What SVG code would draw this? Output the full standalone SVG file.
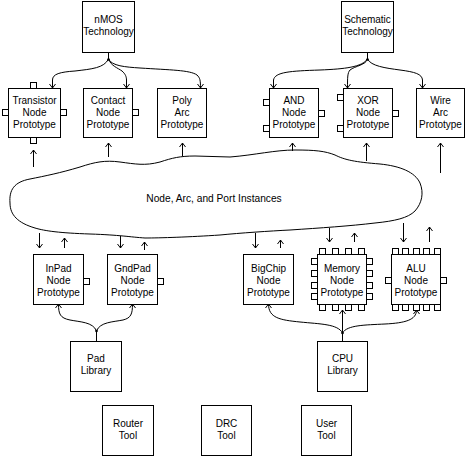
<svg xmlns="http://www.w3.org/2000/svg" width="467" height="457" viewBox="0 0 467 457">
<style>
.b{fill:#fff;stroke:#000;stroke-width:1}
.p{fill:#fff;stroke:#000;stroke-width:1}
.c{fill:none;stroke:#000;stroke-width:1}
text{font-family:"Liberation Sans",Arial,sans-serif;font-size:10px;text-anchor:middle;fill:#000}
</style>
<defs>
<marker id="ah" viewBox="0 0 8 8" refX="5" refY="4" markerWidth="8" markerHeight="8" markerUnits="userSpaceOnUse" orient="auto">
<path d="M1,1 L5,4 L1,7" fill="none" stroke="#000" stroke-width="1"/>
</marker>
</defs>
<rect width="467" height="457" fill="#fff"/>

<g id="cloud">
<path class="c" d="M10,203 C9,190 14,182 30,179 C45,176 60,173 80,167 C95,162 105,160 120,162 C135,164 145,166 160,162 C172,158 180,156 195,156 L230,157 C255,155 275,150 295,150 C315,150 325,151 335,155 C345,160 355,162 380,164 C400,166 415,172 420,183 C424,193 422,203 415,211 C408,218 395,221 375,223 C350,226 320,228 290,230 C270,231 240,233 220,235 C190,237 160,238 145,238 C130,237 120,235 90,234 C60,233 45,231 35,228 C18,223 10,215 10,203 Z"/>
<text x="214" y="201.5" style="font-size:10.2px">Node, Arc, and Port Instances</text>
</g>

<g id="connectors" class="c" marker-end="url(#ah)">
<path d="M108.5,52 V59" marker-end="none"/>
<circle cx="108.5" cy="59.5" r="1.3" fill="#000" stroke="none"/>
<path d="M108.5,59 C104,68 92,69 75,71 C60,72 52.5,74 52.5,80 V88"/>
<path d="M108.5,59 C111,66 118,68 122,71 C125.5,74 126.5,77 126.5,80 V88"/>
<path d="M108.5,59 C112,66 125,67 140,68 C170,70 190,70 197,75 C200,78 200.5,80 200.5,88"/>
<path d="M367.5,52 V59" marker-end="none"/>
<circle cx="367.5" cy="59.5" r="1.3" fill="#000" stroke="none"/>
<path d="M367.5,59 C362,67 345,69 320,70 C290,71 275,72 273.5,80 V88"/>
<path d="M367.5,59 C366,65 355,66 350,70 C347.5,73 347.5,77 347.5,88"/>
<path d="M367.5,59 C371,66 385,68 400,70 C415,72 422,74 422.5,80 V88"/>
<path d="M96.5,341 V331" marker-end="none"/>
<circle cx="96.5" cy="331" r="1.3" fill="#000" stroke="none"/>
<path d="M96.5,331 C93,322 80,322 70,320 C60,318 58.5,314 58.5,304"/>
<path d="M96.5,331 C100,322 113,322 123,320 C131,318 132.5,314 132.5,304"/>
<path d="M342.5,341 V333" marker-end="none"/>
<circle cx="342.5" cy="333" r="1.3" fill="#000" stroke="none"/>
<path d="M342.5,333 C338,324 320,324 300,322 C280,320 268.5,318 268.5,304"/>
<path d="M342.5,333 V310"/>
<path d="M342.5,333 C347,325 365,325 385,324 C405,323 416.5,320 416.5,310"/>
<line x1="33.5" y1="167" x2="33.5" y2="150"/>
<line x1="108.5" y1="157" x2="108.5" y2="143"/>
<line x1="182.5" y1="156" x2="182.5" y2="143"/>
<line x1="292.5" y1="151" x2="292.5" y2="143"/>
<line x1="366.5" y1="161" x2="366.5" y2="143"/>
<line x1="440.5" y1="173" x2="440.5" y2="143"/>
<line x1="39.5" y1="233" x2="39.5" y2="248"/>
<line x1="64.5" y1="248" x2="64.5" y2="238"/>
<line x1="120.5" y1="236" x2="120.5" y2="248"/>
<line x1="144.5" y1="250" x2="144.5" y2="242"/>
<line x1="255.5" y1="233" x2="255.5" y2="248"/>
<line x1="280.5" y1="248" x2="280.5" y2="240"/>
<line x1="329.5" y1="228" x2="329.5" y2="242"/>
<line x1="354.5" y1="242" x2="354.5" y2="233"/>
<line x1="403.5" y1="223" x2="403.5" y2="242"/>
<line x1="429.5" y1="242" x2="429.5" y2="227"/>
</g>

<g id="nmos"><rect class="b" x="82.5" y="1.5" width="52" height="51"/><text x="108.5" y="23">nMOS</text><text x="108.5" y="35">Technology</text></g>
<g id="schematic"><rect class="b" x="341.5" y="1.5" width="52" height="51"/><text x="367.5" y="23">Schematic</text><text x="367.5" y="35">Technology</text></g>

<g id="transistor"><rect class="b" x="8.5" y="88.5" width="52" height="49"/>
<rect class="p" x="30.5" y="82.5" width="6" height="6"/><rect class="p" x="30.5" y="137.5" width="6" height="6"/><rect class="p" x="2.5" y="109.5" width="6" height="6"/><rect class="p" x="60.5" y="109.5" width="6" height="6"/>
<text x="34.5" y="104">Transistor</text><text x="34.5" y="116">Node</text><text x="34.5" y="128">Prototype</text></g>
<g id="contact"><rect class="b" x="83.5" y="88.5" width="49" height="49"/><rect class="p" x="132.5" y="109.5" width="6" height="6"/>
<text x="108" y="104">Contact</text><text x="108" y="116">Node</text><text x="108" y="128">Prototype</text></g>
<g id="poly"><rect class="b" x="157.5" y="88.5" width="49" height="49"/>
<text x="182" y="104">Poly</text><text x="182" y="116">Arc</text><text x="182" y="128">Prototype</text></g>
<g id="and"><rect class="b" x="269.5" y="88.5" width="49" height="49"/><rect class="p" x="263.5" y="99.5" width="6" height="6"/><rect class="p" x="263.5" y="125.5" width="6" height="6"/><rect class="p" x="318.5" y="110.5" width="6" height="6"/>
<text x="294" y="104">AND</text><text x="294" y="116">Node</text><text x="294" y="128">Prototype</text></g>
<g id="xor"><rect class="b" x="343.5" y="88.5" width="49" height="49"/><rect class="p" x="337.5" y="94.5" width="6" height="6"/><rect class="p" x="337.5" y="125.5" width="6" height="6"/><rect class="p" x="392.5" y="110.5" width="6" height="6"/>
<text x="368" y="104">XOR</text><text x="368" y="116">Node</text><text x="368" y="128">Prototype</text></g>
<g id="wire"><rect class="b" x="416.5" y="88.5" width="48" height="49"/>
<text x="440.5" y="104">Wire</text><text x="440.5" y="116">Arc</text><text x="440.5" y="128">Prototype</text></g>

<g id="inpad"><rect class="b" x="33.5" y="254.5" width="50" height="50"/><rect class="p" x="83.5" y="278.5" width="6" height="6"/>
<text x="58.5" y="272">InPad</text><text x="58.5" y="284">Node</text><text x="58.5" y="296">Prototype</text></g>
<g id="gndpad"><rect class="b" x="107.5" y="254.5" width="50" height="50"/><rect class="p" x="157.5" y="278.5" width="6" height="6"/>
<text x="132.5" y="272">GndPad</text><text x="132.5" y="284">Node</text><text x="132.5" y="296">Prototype</text></g>
<g id="bigchip"><rect class="b" x="243.5" y="254.5" width="50" height="50"/>
<text x="268.5" y="271.5">BigChip</text><text x="268.5" y="283.5">Node</text><text x="268.5" y="295.5">Prototype</text></g>
<g id="memory"><rect class="b" x="317.5" y="254.5" width="49" height="50"/>
<rect class="p" x="319.5" y="248.5" width="6" height="6"/><rect class="p" x="332.5" y="248.5" width="6" height="6"/><rect class="p" x="345.5" y="248.5" width="6" height="6"/><rect class="p" x="358.5" y="248.5" width="6" height="6"/>
<rect class="p" x="319.5" y="304.5" width="6" height="6"/><rect class="p" x="332.5" y="304.5" width="6" height="6"/><rect class="p" x="345.5" y="304.5" width="6" height="6"/><rect class="p" x="358.5" y="304.5" width="6" height="6"/>
<rect class="p" x="311.5" y="258.5" width="6" height="6"/><rect class="p" x="311.5" y="270.5" width="6" height="6"/><rect class="p" x="311.5" y="282.5" width="6" height="6"/><rect class="p" x="311.5" y="293.5" width="6" height="6"/>
<rect class="p" x="366.5" y="258.5" width="6" height="6"/><rect class="p" x="366.5" y="270.5" width="6" height="6"/><rect class="p" x="366.5" y="282.5" width="6" height="6"/><rect class="p" x="366.5" y="293.5" width="6" height="6"/>
<text x="342" y="271.5">Memory</text><text x="342" y="283.5">Node</text><text x="342" y="295.5">Prototype</text></g>
<g id="alu"><rect class="b" x="391.5" y="254.5" width="49" height="50"/>
<rect class="p" x="392.5" y="248.5" width="6" height="6"/><rect class="p" x="402.5" y="248.5" width="6" height="6"/><rect class="p" x="413.5" y="248.5" width="6" height="6"/><rect class="p" x="423.5" y="248.5" width="6" height="6"/><rect class="p" x="434.5" y="248.5" width="6" height="6"/>
<rect class="p" x="392.5" y="304.5" width="6" height="6"/><rect class="p" x="402.5" y="304.5" width="6" height="6"/><rect class="p" x="413.5" y="304.5" width="6" height="6"/><rect class="p" x="423.5" y="304.5" width="6" height="6"/><rect class="p" x="434.5" y="304.5" width="6" height="6"/>
<rect class="p" x="385.5" y="277.5" width="6" height="6"/><rect class="p" x="440.5" y="277.5" width="6" height="6"/>
<text x="416" y="271.5">ALU</text><text x="416" y="283.5">Node</text><text x="416" y="295.5">Prototype</text></g>

<g id="padlib"><rect class="b" x="70.5" y="341.5" width="51" height="50"/><text x="96" y="362">Pad</text><text x="96" y="374">Library</text></g>
<g id="cpulib"><rect class="b" x="317.5" y="341.5" width="50" height="50"/><text x="342.5" y="362">CPU</text><text x="342.5" y="374">Library</text></g>
<g id="router"><rect class="b" x="102.5" y="405.5" width="51" height="50"/><text x="128" y="427">Router</text><text x="128" y="439">Tool</text></g>
<g id="drc"><rect class="b" x="201.5" y="405.5" width="50" height="50"/><text x="226.5" y="427">DRC</text><text x="226.5" y="439">Tool</text></g>
<g id="user"><rect class="b" x="301.5" y="405.5" width="50" height="50"/><text x="326.5" y="427">User</text><text x="326.5" y="439">Tool</text></g>
</svg>
